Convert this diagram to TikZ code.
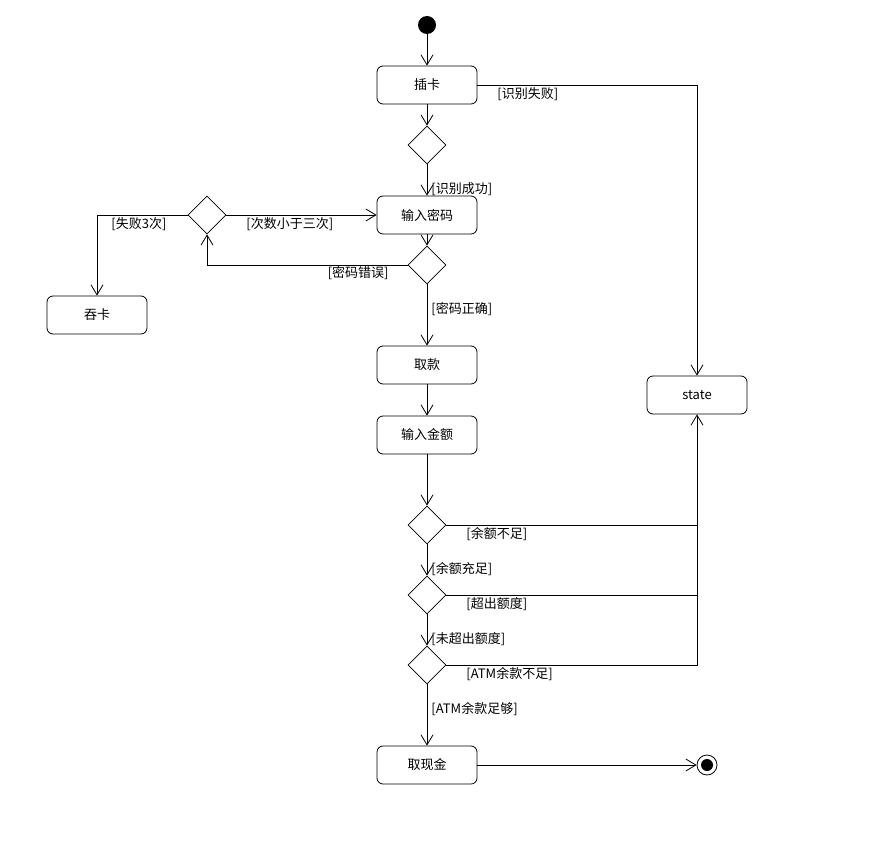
\documentclass[tikz,border=0pt]{standalone}
\usepackage{fontspec}
\setmainfont{Noto Sans CJK SC}
\usetikzlibrary{arrows.meta,shapes.geometric}
\begin{document}
\begin{tikzpicture}[x=1pt,y=-1pt,line width=0.8pt,
  act/.style={draw,rounded corners=6pt,minimum width=100pt,minimum height=38pt,inner sep=0pt,font=\fontsize{13}{15}\selectfont},
  dec/.style={draw,diamond,minimum width=38pt,minimum height=38pt,inner sep=0pt},
  lab/.style={inner sep=0pt,font=\fontsize{13}{15}\selectfont},
  flow/.style={-{Straight Barb[length=10pt,width=12pt]}}]
\useasboundingbox (0,0) rectangle (888,848);
\fill[white] (0,0) rectangle (888,848);
% nodes
\node[circle,fill=black,minimum size=18pt,inner sep=0pt] (start) at (427,25) {};
\node[act] (c1) at (427,85) {插卡};
\node[dec] (d1) at (427,145) {};
\node[act] (pw) at (427,215) {输入密码};
\node[dec] (d2) at (427,265) {};
\node[dec] (dl) at (207,215) {};
\node[act] (eat) at (97,315) {吞卡};
\node[act] (wd) at (427,365) {取款};
\node[act] (amt) at (427,435) {输入金额};
\node[dec] (d3) at (427,525) {};
\node[dec] (d4) at (427,595) {};
\node[dec] (d5) at (427,665) {};
\node[act] (cash) at (427,765) {取现金};
\node[act] (state) at (697,395) {state};
\node[circle,draw,minimum size=20pt,inner sep=0pt] (end) at (707,765) {};
\fill (end.center) circle (6pt);
% connectors
\draw[flow] (start) -- (c1);
\draw[flow] (c1) -- (d1);
\draw[flow] (c1.east) -| (state.north);
\draw[flow] (d1) -- (pw);
\draw[flow] (pw) -- (d2);
\draw[flow] (d2.west) -| (dl.south);
\draw[flow] (dl.east) -- (pw.west);
\draw[flow] (dl.west) -| (eat.north);
\draw[flow] (d2) -- (wd);
\draw[flow] (wd) -- (amt);
\draw[flow] (amt) -- (d3);
\draw[flow] (d3.east) -| (state.south);
\draw (d4.east) -| (state.south |- d3.east);
\draw (d5.east) -| (state.south |- d4.east);
\draw[flow] (d3) -- (d4);
\draw[flow] (d4) -- (d5);
\draw[flow] (d5) -- (cash);
\draw[flow] (cash) -- (end);
% labels
\node[lab,anchor=west] (l1) at (497,94) {[识别失败]};
\node[lab,anchor=west] (l2) at (431,189) {[识别成功]};
\node[lab,anchor=west] (l3) at (246,224) {[次数小于三次]};
\node[lab,anchor=west] (l4) at (111,224) {[失败3次]};
\node[lab,anchor=east] (l5) at (389,273) {[密码错误]};
\node[lab,anchor=west] (l6) at (431,309) {[密码正确]};
\node[lab,anchor=west] (l7) at (466,534) {[余额不足]};
\node[lab,anchor=west] (l8) at (431,569) {[余额充足]};
\node[lab,anchor=west] (l9) at (466,604) {[超出额度]};
\node[lab,anchor=west] (l10) at (431,639) {[未超出额度]};
\node[lab,anchor=west] (l11) at (466,674) {[ATM余款不足]};
\node[lab,anchor=west] (l12) at (431,709) {[ATM余款足够]};
\end{tikzpicture}
\end{document}
